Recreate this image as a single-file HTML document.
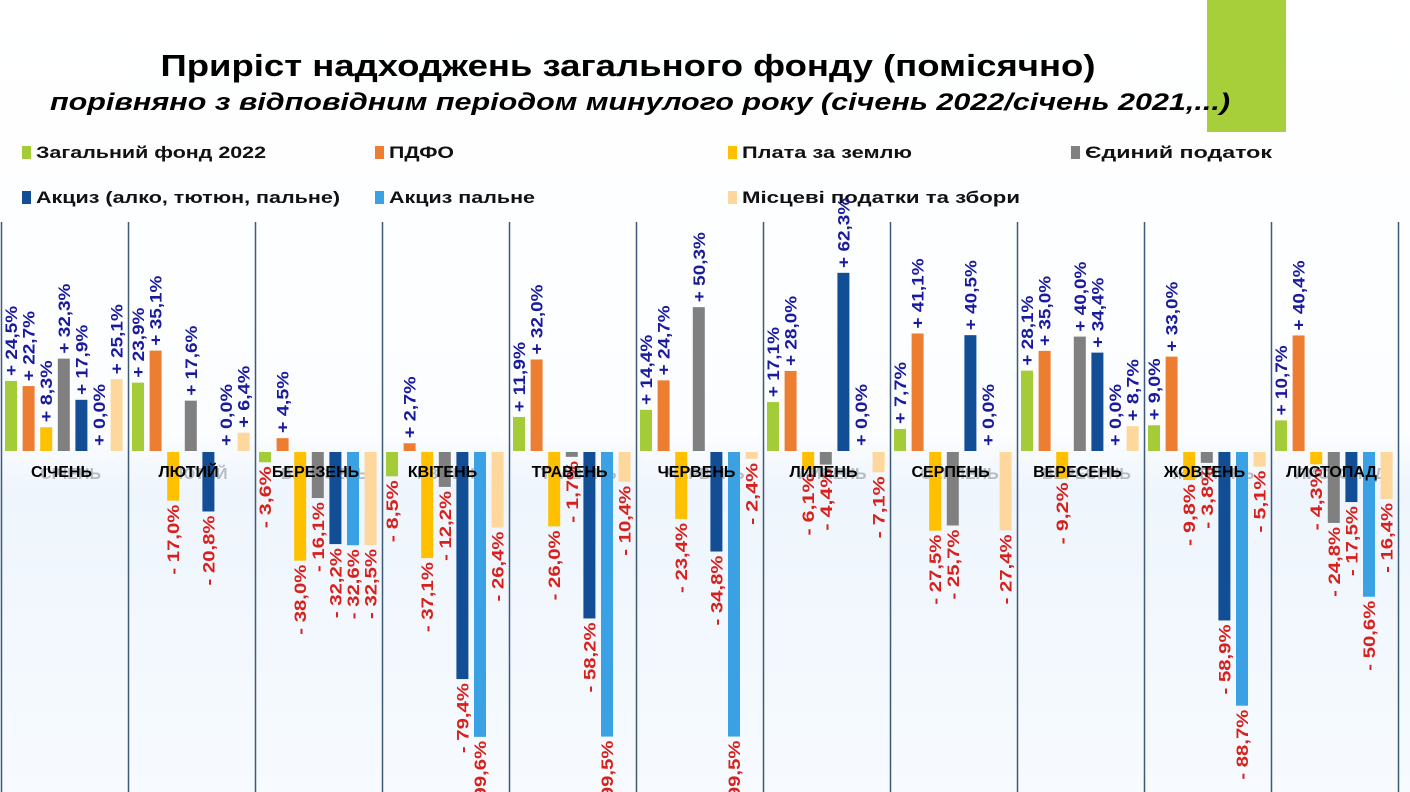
<!DOCTYPE html>
<html><head><meta charset="utf-8">
<style>
html,body{margin:0;padding:0;background:#fff;}
svg{display:block;font-family:"Liberation Sans",sans-serif;}
</style></head>
<body>
<svg id="c" width="1410" height="792" viewBox="0 0 1410 792" xmlns="http://www.w3.org/2000/svg">
<defs>
<linearGradient id="bg" x1="0" y1="0" x2="0" y2="1">
<stop offset="0" stop-color="#ffffff"/>
<stop offset="0.55" stop-color="#fbfdff"/>
<stop offset="0.62" stop-color="#eef5fc"/>
<stop offset="1" stop-color="#f7fbff"/>
</linearGradient>
</defs>
<rect width="1410" height="792" fill="url(#bg)"/>
<rect x="1207" y="0" width="79" height="132" fill="#a7cf3a"/>
<text x="628" y="76" text-anchor="middle" font-size="31" font-weight="bold" fill="#000" textLength="935" lengthAdjust="spacingAndGlyphs">Приріст надходжень загального фонду (помісячно)</text>
<text x="640" y="110" text-anchor="middle" font-size="24" font-weight="bold" font-style="italic" fill="#000" textLength="1180" lengthAdjust="spacingAndGlyphs">порівняно з відповідним періодом минулого року (січень 2022/січень 2021,...)</text>
<g id="legend" font-size="17" font-weight="bold" fill="#111"></g>
<g id="plot"></g>
</svg>
<script>
var NS="http://www.w3.org/2000/svg";
function el(p,n,a,t){var e=document.createElementNS(NS,n);for(var k in a)e.setAttribute(k,a[k]);if(t!=null)e.textContent=t;p.appendChild(e);return e;}
var cols=["#a4cc38","#ed7d31","#ffc000","#808080","#124e96","#3aa2e4","#fdd79c"];
var lg=document.getElementById("legend");
var L=[[22,152,0,"Загальний фонд 2022",230],[375,152,1,"ПДФО",65],[728,152,2,"Плата за землю",170],[1071,152,3,"Єдиний податок",187],
[22,197,4,"Акциз (алко, тютюн, пальне)",304],[375,197,5,"Акциз пальне",146],[728,197,6,"Місцеві податки та збори",278]];
L.forEach(function(l){el(lg,"rect",{x:l[0],y:l[1]-6,width:9,height:13,fill:cols[l[2]]});
el(lg,"text",{x:l[0]+14,y:l[1]+6,textLength:l[4],lengthAdjust:"spacingAndGlyphs"},l[3]);});
var months=["СІЧЕНЬ","ЛЮТИЙ","БЕРЕЗЕНЬ","КВІТЕНЬ","ТРАВЕНЬ","ЧЕРВЕНЬ","ЛИПЕНЬ","СЕРПЕНЬ","ВЕРЕСЕНЬ","ЖОВТЕНЬ","ЛИСТОПАД"];
var D=[[24.5,22.7,8.3,32.3,17.9,0.0,25.1],[23.9,35.1,-17.0,17.6,-20.8,0.0,6.4],[-3.6,4.5,-38.0,-16.1,-32.2,-32.6,-32.5],
[-8.5,2.7,-37.1,-12.2,-79.4,-99.6,-26.4],[11.9,32.0,-26.0,-1.7,-58.2,-99.5,-10.4],[14.4,24.7,-23.4,50.3,-34.8,-99.5,-2.4],
[17.1,28.0,-6.1,-4.4,62.3,0.0,-7.1],[7.7,41.1,-27.5,-25.7,40.5,0.0,-27.4],[28.1,35.0,-9.2,40.0,34.4,0.0,8.7],
[9.0,33.0,-9.8,-3.8,-58.9,-88.7,-5.1],[10.7,40.4,-4.3,-24.8,-17.5,-50.6,-16.4]];
var p=document.getElementById("plot");var Z=451,S=2.86,G=127;
for(var i=0;i<12;i++){el(p,"line",{x1:1.5+i*G,y1:222,x2:1.5+i*G,y2:792,stroke:"#3d5a78","stroke-width":1.5});}
D.forEach(function(row,m){var gx=1+m*G;
 var cx0=gx+G/2-3;
 el(p,"text",{x:cx0+9,y:479,"text-anchor":"middle","font-size":16,"font-weight":"bold",fill:"#8a949e",opacity:0.6},months[m]);
 row.forEach(function(v,j){var x=gx+4+j*17.6,w=12,cx=x+w/2;var h=Math.abs(v)*S;
  if(v!==0){el(p,"rect",{x:x,y:v>0?Z-h:Z+1,width:w,height:h,fill:cols[j]});}
  var txt=(v>=0?"+ ":"- ")+Math.abs(v).toFixed(1).replace(".",",")+"%";
  var y=v>=0?Z-h-5:Z+1+h+4;
  var tl=txt.length===7?70:62;
  el(p,"text",{x:cx+6,y:y,transform:"rotate(-90 "+(cx+6)+" "+y+")","text-anchor":v>=0?"start":"end","font-size":17,"font-weight":"bold",textLength:tl,lengthAdjust:"spacingAndGlyphs",fill:v>=0?"#1a1a9c":"#d8201c"},txt);
 });
 el(p,"text",{x:cx0,y:477,"text-anchor":"middle","font-size":16,"font-weight":"bold",fill:"#000"},months[m]);
});
</script>
</body></html>
